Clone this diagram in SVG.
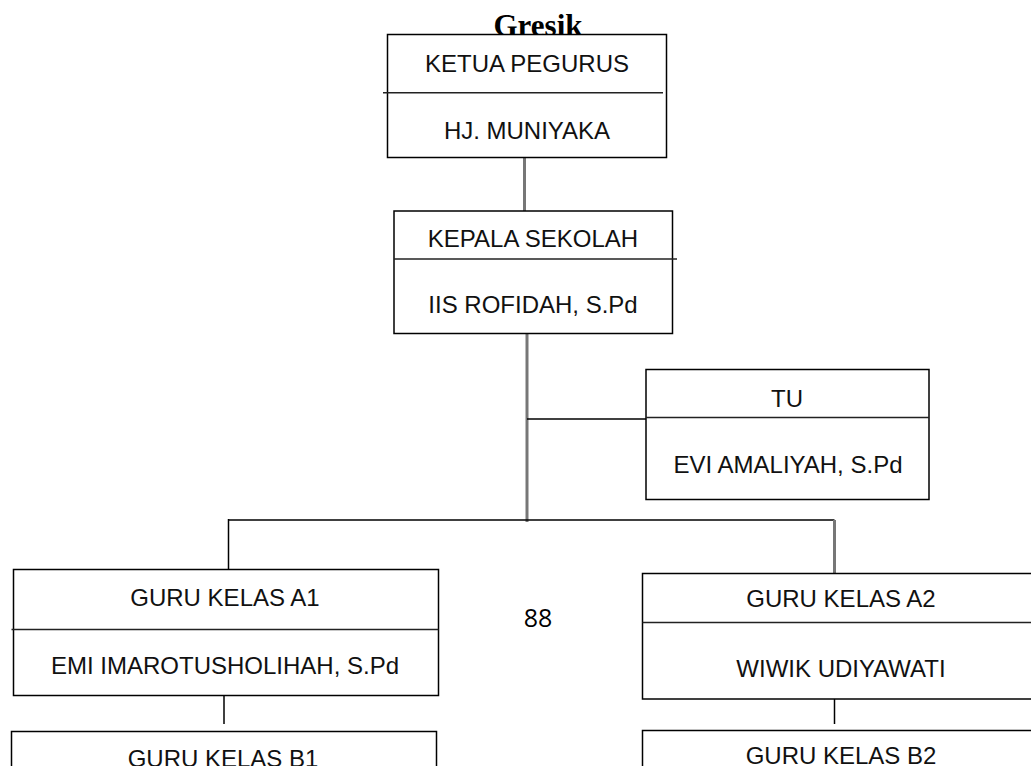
<svg xmlns="http://www.w3.org/2000/svg" width="1031" height="766" viewBox="0 0 1031 766">
<style>
.box{fill:#fff;stroke:#000;stroke-width:1.5}
.div{stroke:#222;stroke-width:1.5}
.t{font-family:"Liberation Sans",Arial,sans-serif;font-size:24px;fill:#111;text-anchor:middle}
.conn line{stroke:#000;stroke-width:1.5}
.conn .g{stroke:#777;stroke-width:3}
</style>
<rect width="1031" height="766" fill="#fff"/>
<text x="538" y="36" font-family="Liberation Serif,Times New Roman,serif" font-weight="bold" font-size="31" text-anchor="middle">Gresik</text>
<g class="conn" id="connectors">
<line class="g" x1="524.5" y1="158" x2="524.5" y2="211"/>
<line class="g" x1="527" y1="333" x2="527" y2="522"/>
<line x1="527" y1="419" x2="646" y2="419"/>
<line x1="228.5" y1="520" x2="834.5" y2="520"/>
<line x1="228.5" y1="519" x2="228.5" y2="569"/>
<line class="g" x1="834.5" y1="520" x2="834.5" y2="573"/>
<line x1="224" y1="696" x2="224" y2="724"/>
<line x1="834.5" y1="697" x2="834.5" y2="724"/>
</g>
<g id="ketua">
<rect class="box" x="387.5" y="34.5" width="279" height="123"/>
<line class="div" x1="383" y1="92.7" x2="663" y2="92.7"/>
<text class="t" x="527" y="72">KETUA PEGURUS</text>
<text class="t" x="527" y="139">HJ. MUNIYAKA</text>
</g>
<g id="kepala">
<rect class="box" x="394" y="211" width="278.5" height="122.5"/>
<line class="div" x1="394" y1="259" x2="677" y2="259"/>
<text class="t" x="533" y="247">KEPALA SEKOLAH</text>
<text class="t" x="533" y="313">IIS ROFIDAH, S.Pd</text>
</g>
<g id="tu">
<rect class="box" x="646" y="369.5" width="283" height="130"/>
<line class="div" x1="646" y1="417.5" x2="929" y2="417.5"/>
<text class="t" x="787" y="407">TU</text>
<text class="t" x="788" y="473">EVI AMALIYAH, S.Pd</text>
</g>
<g id="a1">
<rect class="box" x="13.5" y="569.5" width="425" height="126"/>
<line class="div" x1="11.5" y1="629.5" x2="438.5" y2="629.5"/>
<text class="t" x="225" y="606">GURU KELAS A1</text>
<text class="t" x="225" y="674">EMI IMAROTUSHOLIHAH, S.Pd</text>
</g>
<g id="a2">
<rect class="box" x="642.5" y="573.5" width="400" height="125.5"/>
<line class="div" x1="642.5" y1="622.5" x2="1031" y2="622.5"/>
<text class="t" x="841" y="607">GURU KELAS A2</text>
<text class="t" x="841" y="677">WIWIK UDIYAWATI</text>
</g>
<g id="b1">
<rect class="box" x="11.5" y="731.5" width="425" height="60"/>
<text class="t" x="223" y="767">GURU KELAS B1</text>
</g>
<g id="b2">
<rect class="box" x="642.5" y="730.5" width="400" height="60"/>
<text class="t" x="841" y="764">GURU KELAS B2</text>
</g>
<text x="538" y="627" font-family="Open Sans,Liberation Sans,sans-serif" font-size="25" text-anchor="middle" fill="#000">88</text>
</svg>
